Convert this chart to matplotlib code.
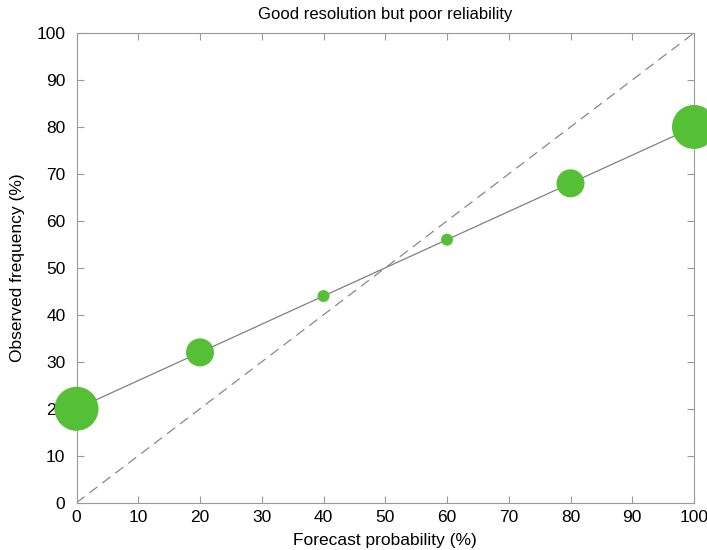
import matplotlib
matplotlib.use("Agg")
import matplotlib.pyplot as plt

plt.rcParams['font.family'] = ['Liberation Sans', 'DejaVu Sans']

forecast = [0, 20, 40, 60, 80, 100]
observed = [20, 32, 44, 56, 68, 80]
counts = [44, 28, 12, 12, 28, 44]  # marker diameters (px) as drawn
diag = [0, 100]
ticks = list(range(0, 101, 10))

fig = plt.figure(figsize=(7.07, 5.5), dpi=100)
ax = fig.add_axes([76.5/707, 1-502.7/550, (694-76.5)/707, (502.7-33)/550])

ax.plot(diag, diag, color='#888888', lw=0.9, ls=(0, (8, 5)), zorder=2)
ax.plot(forecast, observed, color='#808080', lw=0.9, zorder=3)
sizes = [(d * 72 / 100) ** 2 for d in counts]
ax.scatter(forecast, observed, s=sizes, color='#55bf35', edgecolors='none',
           zorder=4, clip_on=False)

ax.set_xlim(0, 100)
ax.set_ylim(0, 100)
ax.set_xticks(ticks)
ax.set_yticks(ticks)
ax.tick_params(direction='in', length=5, width=0.8, color='#999999',
               top=True, right=True, labelsize=12.5, labelcolor='black')
ax.tick_params(axis='y', pad=8)
ax.tick_params(axis='x', pad=5)
for s in ax.spines.values():
    s.set_color('#999999')
    s.set_linewidth(0.8)

ax.set_xlabel('Forecast probability (%)', fontsize=12.5, labelpad=6)
ax.set_ylabel('Observed frequency (%)', fontsize=12.5, labelpad=8)
ax.set_title('Good resolution but poor reliability', fontsize=12, pad=10)

fig.savefig('out.png', dpi=100)
